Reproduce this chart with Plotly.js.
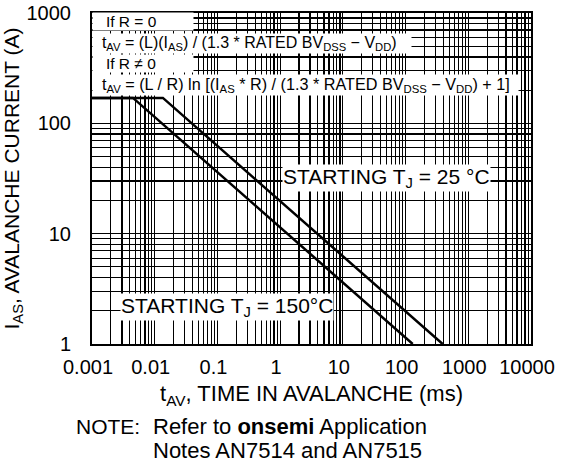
<!DOCTYPE html>
<html><head><meta charset="utf-8">
<script src="https://cdn.plot.ly/plotly-3.0.1.min.js"></script>
<style>html,body{margin:0;padding:0;background:#fff}</style>
</head><body><div id="chart" style="width:564px;height:468px"></div>
<script>
// Axis ticks
const xTickValues = [0.001, 0.01, 0.1, 1, 10, 100, 1000, 10000];
const xTickLabels = ['0.001', '0.01', '0.1', '1', '10', '100', '1000', '10000'];
const yTickValues = [1, 10, 100, 1000];
const yTickLabels = ['1', '10', '100', '1000'];
// Curves: avalanche current vs time in avalanche
const t150 = [0.001, 0.0045, 130];
const i150 = [170, 170, 1];
const t25 = [0.001, 0.0135, 390];
const i25 = [170, 170, 1];
// Text
const label25 = 'STARTING T<sub>J</sub> = 25 °C';
const label150 = 'STARTING T<sub>J</sub> = 150°C';

function minorVals(lo, hi) {
  const v = [];
  for (let k = lo; k < hi; k++) for (let d = 2; d <= 9; d++) v.push(d * Math.pow(10, k));
  return v;
}

const F = 'Liberation Sans, Arial, Helvetica, sans-serif';
const line = {color: '#000', width: 2.5};
const traces = [
  {x: t150, y: i150, mode: 'lines', line: line, name: '150°C', hoverinfo: 'x+y'},
  {x: t25, y: i25, mode: 'lines', line: line, name: '25°C', hoverinfo: 'x+y'}
];

const px2x = p => (p - 92) / 439;
const px2y = p => (344 - p) / 331;
const box = (text, xp, yp, w, size, extra) => Object.assign({
  xref: 'paper', yref: 'paper', x: px2x(xp), y: px2y(yp), xanchor: 'left', yanchor: 'middle',
  text: text, showarrow: false, bgcolor: '#fff', borderpad: 0, width: w, align: 'left',
  font: {family: F, size: size, color: '#000'}
}, extra || {});

const annotations = [
  box('\u00a0\u00a0\u00a0If R = 0', 92, 21, 100, 15.5),
  box('\u00a0\u00a0t<sub>AV</sub> = (L)(I<sub>AS</sub>) / (1.3 * RATED BV<sub>DSS</sub> − V<sub>DD</sub>)', 92, 43, 318, 16),
  box('\u00a0\u00a0\u00a0If R ≠ 0', 92, 63.5, 100, 15.5),
  box('\u00a0\u00a0t<sub>AV</sub> = (L / R) ln [(I<sub>AS</sub> * R) / (1.3 * RATED BV<sub>DSS</sub> − V<sub>DD</sub>) + 1]', 92, 85, 425, 16.2),
  Object.assign(box(label25, 386.5, 178, null, 21), {xanchor: 'center', align: 'center'}),
  Object.assign(box(label150, 226.5, 307, null, 21), {xanchor: 'center', align: 'center'}),
  Object.assign(box('NOTE:', 75, 426, null, 21), {bgcolor: 'rgba(0,0,0,0)'}),
  Object.assign(box('Refer to <b>onsemi</b> Application', 152, 426, null, 22), {bgcolor: 'rgba(0,0,0,0)'}),
  Object.assign(box('Notes AN7514 and AN7515', 152, 450, null, 22), {bgcolor: 'rgba(0,0,0,0)'})
];

const layout = {
  width: 564, height: 468,
  margin: {l: 92, r: 33, t: 13, b: 124},
  paper_bgcolor: '#fff', plot_bgcolor: '#fff',
  showlegend: false,
  font: {family: F, size: 20, color: '#000'},
  xaxis: {
    type: 'log', range: [-3, 4], tickmode: 'array', tickvals: xTickValues, ticktext: xTickLabels,
    showgrid: true, gridcolor: '#000', gridwidth: 1.2,
    minor: {tickmode: 'array', tickvals: minorVals(-3, 4), showgrid: true, gridcolor: '#000', gridwidth: 1.2, ticks: ''},
    showline: true, linecolor: '#000', linewidth: 2, mirror: true, ticks: '', zeroline: false,
    tickfont: {family: F, size: 20, color: '#000'}, ticklabelstandoff: 4, ticklabelshift: -4,
    title: {text: 't<sub>AV</sub>, TIME IN AVALANCHE (ms)\u00a0\u00a0\u00a0\u00a0\u00a0\u00a0', font: {family: F, size: 22, color: '#000'}, standoff: 9}
  },
  yaxis: {
    type: 'log', range: [0, 3], tickmode: 'array', tickvals: yTickValues, ticktext: yTickLabels,
    showgrid: true, gridcolor: '#000', gridwidth: 1.2,
    minor: {tickmode: 'array', tickvals: minorVals(0, 3), showgrid: true, gridcolor: '#000', gridwidth: 1.2, ticks: ''},
    showline: true, linecolor: '#000', linewidth: 2, mirror: true, ticks: '', zeroline: false,
    tickfont: {family: F, size: 20, color: '#000'}, ticklabelstandoff: 15,
    title: {text: 'I<sub>AS</sub>, AVALANCHE CURRENT (A)', font: {family: F, size: 21, color: '#000'}, standoff: 8}
  },
  annotations: annotations
};

Plotly.newPlot('chart', traces, layout, {displayModeBar: false, staticPlot: true});
</script>
</body></html>
